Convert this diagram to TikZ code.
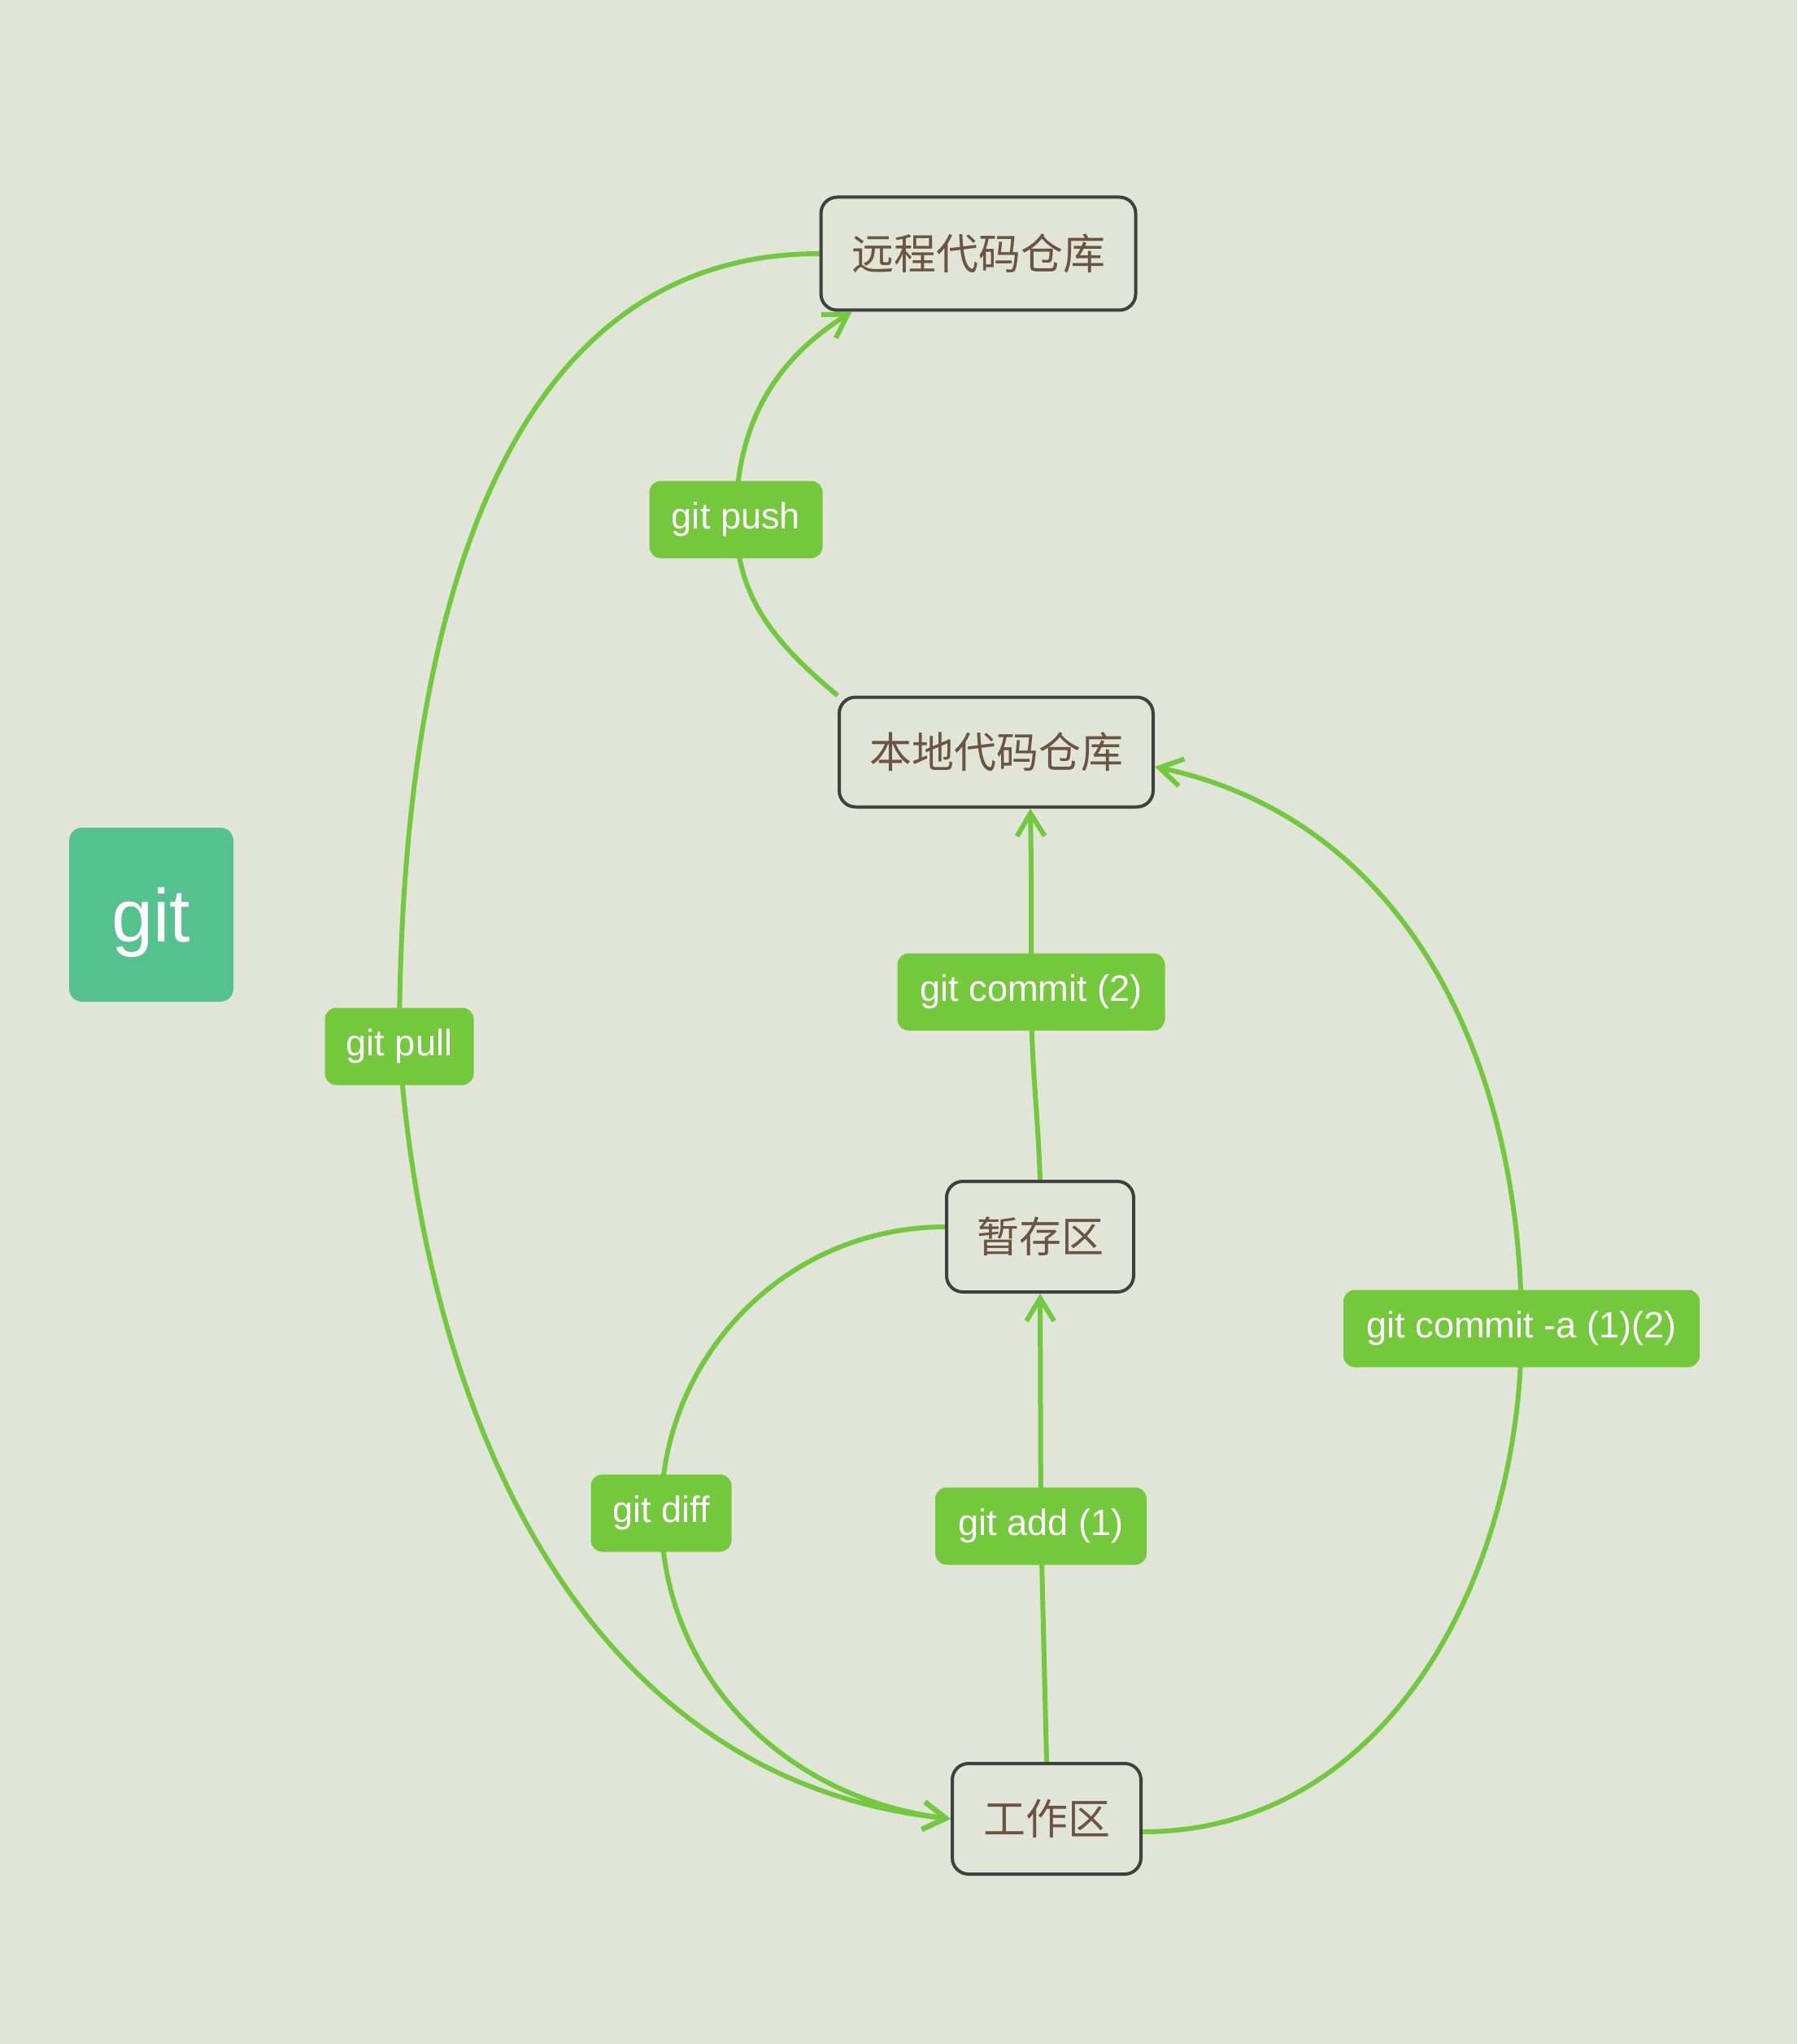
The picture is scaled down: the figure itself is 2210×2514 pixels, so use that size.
\documentclass[tikz,border=0pt]{standalone}
\usepackage{fontspec}
\setmainfont{Liberation Sans}
\newfontfamily\cjk{Noto Sans CJK SC}
\usetikzlibrary{arrows.meta}
\pgfdeclarelayer{back}
\pgfdeclarelayer{bg}
\pgfsetlayers{back,bg,main}
\definecolor{bgc}{HTML}{E1E5D8}
\definecolor{boxline}{HTML}{404040}
\definecolor{boxtext}{HTML}{6B5443}
\definecolor{lblgreen}{HTML}{74C83B}
\definecolor{edgegreen}{HTML}{72C940}
\definecolor{gitgreen}{HTML}{55C18E}
\tikzset{
  box/.style={draw=boxline, line width=1pt, rounded corners=5pt, fill=bgc,
    text=boxtext, font=\cjk\fontsize{13}{15}\selectfont, inner sep=0pt,
    minimum height=34pt},
  lbl/.style={fill=lblgreen, rounded corners=3.5pt, text=white,
    font=\fontsize{11.3}{13}\selectfont, inner sep=0pt, minimum height=23.75pt},
  edge/.style={draw=edgegreen, line width=1.5pt},
  arr/.style={-{Straight Barb[length=7pt,width=8.5pt]}}
}
\begin{document}
\begin{tikzpicture}[x=0.25pt,y=0.25pt]
\begin{pgfonlayer}{back}
\fill[bgc] (0,0) rectangle (2210,-2514);
\end{pgfonlayer}
\useasboundingbox (0,0) rectangle (2210,-2514);
% main nodes
\node[box, minimum width=96.75pt, minimum height=34.75pt] (remote) at (1203,-312) {远程代码仓库};
\node[box, minimum width=96.5pt, minimum height=33.75pt] (local) at (1225,-925) {本地代码仓库};
\node[box, minimum width=57.5pt] (stage) at (1279,-1521) {暂存区};
\node[box, minimum width=58pt] (work) at (1287,-2237) {工作区};
\node[fill=gitgreen, rounded corners=4pt, minimum width=50.5pt, minimum height=53.5pt,
  inner sep=0pt, text height=16.5pt, text depth=0pt, text=white,
  font=\fontsize{23}{26}\selectfont] (git) at (186,-1125) {git};
% labels
\node[lbl, minimum width=53.25pt] (push) at (905,-639) {git push};
\node[lbl, minimum width=45.75pt] (pull) at (491,-1287) {git pull};
\node[lbl, minimum width=82.25pt] (commit2) at (1268,-1220) {git commit (2)};
\node[lbl, minimum width=109.5pt] (commita) at (1871,-1634) {git commit -a (1)(2)};
\node[lbl, minimum width=43.25pt] (diff) at (813,-1861) {git diff};
\node[lbl, minimum width=65pt] (add) at (1280,-1877) {git add (1)};
% connectors
\begin{pgfonlayer}{bg}
\draw[edge, arr] (local.north west) to[out=140,in=-90] (push.center)
  to[out=90,in=212] ([xshift=10pt]remote.south west);
\draw[edge, arr] (remote.west) to[out=180,in=90] (pull.center)
  to[out=-86,in=174] (work.west);
\draw[edge, arr] (stage.north) to[out=92,in=-90] (commit2.center)
  to[out=90,in=-89] ([xshift=10.5pt]local.south);
\draw[edge, arr] (work.north) -- (add.center) -- (stage.south);
\draw[edge, arr] ([yshift=3pt]stage.west) to[out=180,in=90] (diff.center)
  to[out=-90,in=173] (work.west);
\draw[edge, arr] ([yshift=-4pt]work.east) to[out=0,in=-90] (commita.center)
  to[out=90,in=-12] ([yshift=-4.5pt]local.east);
\end{pgfonlayer}
\end{tikzpicture}
\end{document}
